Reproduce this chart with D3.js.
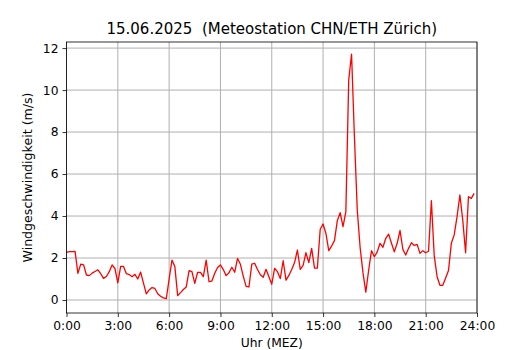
<!DOCTYPE html>
<html>
<head>
<meta charset="utf-8">
<script src="https://cdn.jsdelivr.net/npm/d3@7"></script>
<style>
   body { margin: 0; background: #fff; }
   #chart { width: 530px; height: 350px; }
   text { font-family: "DejaVu Sans", sans-serif; fill: #000; white-space: pre; }
</style>
</head>
<body>
<div id="chart"></div>
<script>
// chart title and axis labels
const title = '15.06.2025  (Meteostation CHN/ETH Zürich)';
const xLabel = 'Uhr (MEZ)';
const yLabel = 'Windgeschwindigkeit (m/s)';

// tick values (hours of the day and m/s)
const xTicks = [0, 3, 6, 9, 12, 15, 18, 21, 24];
const yTicks = [0, 2, 4, 6, 8, 10, 12];

// 10 minute means of wind speed (m/s), 00:00 .. 23:50
const windSpeed = [
   2.27, 2.30, 2.30, 2.32, 1.27, 1.71, 1.67, 1.19, 1.16, 1.28, 1.36, 1.44,
   1.25, 1.03, 1.12, 1.35, 1.67, 1.50, 0.82, 1.60, 1.60, 1.25, 1.21, 1.11,
   1.22, 1.00, 1.33, 0.80, 0.29, 0.48, 0.59, 0.55, 0.30, 0.18, 0.10, 0.06,
   1.00, 1.90, 1.60, 0.21, 0.35, 0.50, 0.62, 1.40, 1.35, 0.79, 1.32, 1.32,
   1.11, 1.90, 0.87, 0.90, 1.27, 1.55, 1.67, 1.45, 1.16, 1.30, 1.56, 1.32,
   1.98, 1.70, 1.14, 0.65, 0.62, 1.71, 1.75, 1.45, 1.20, 1.08, 1.46, 1.11,
   0.75, 1.51, 1.35, 1.02, 1.87, 0.95, 1.17, 1.45, 1.78, 2.38, 1.46, 1.65,
   2.25, 1.78, 2.46, 1.52, 1.52, 3.37, 3.62, 3.17, 2.35, 2.57, 2.83, 3.78,
   4.16, 3.49, 4.21, 10.48, 11.71, 7.78, 4.29, 2.50, 1.30, 0.37, 1.43, 2.35,
   2.06, 2.29, 2.70, 2.51, 2.94, 3.14, 2.70, 2.29, 2.70, 3.31, 2.41, 2.14,
   2.46, 2.73, 2.60, 2.65, 2.22, 2.35, 2.25, 2.32, 4.73, 2.10, 1.11, 0.70,
   0.70, 1.05, 1.40, 2.70, 3.10, 3.97, 5.00, 3.81, 2.25, 4.92, 4.84, 5.08
];

(function () {
   const width = 530;
   const height = 350;
   const margin = { top: 42, right: 53, bottom: 37, left: 66.5 };

   const svg = d3.select('#chart')
      .append('svg')
      .attr('width', width)
      .attr('height', height);

   // x in hours, y in m/s
   const x = d3.scaleLinear()
      .domain([0, 24])
      .range([margin.left, width - margin.right]);

   const y = d3.scaleLinear()
      .domain([-0.62, 12.29])
      .range([height - margin.bottom, margin.top]);

   // grid lines
   svg.append('g')
      .selectAll('line')
      .data(xTicks)
      .join('line')
      .attr('x1', d => x(d)).attr('x2', d => x(d))
      .attr('y1', margin.top).attr('y2', height - margin.bottom)
      .attr('stroke', '#b0b0b0')
      .attr('stroke-width', 1);

   svg.append('g')
      .selectAll('line')
      .data(yTicks)
      .join('line')
      .attr('x1', margin.left).attr('x2', width - margin.right)
      .attr('y1', d => y(d)).attr('y2', d => y(d))
      .attr('stroke', '#b0b0b0')
      .attr('stroke-width', 1);

   // the wind speed line
   const line = d3.line()
      .x((d, i) => x(i / 6))
      .y(d => y(d));

   svg.append('path')
      .datum(windSpeed)
      .attr('d', line)
      .attr('fill', 'none')
      .attr('stroke', '#ff0000')
      .attr('stroke-width', 1.3)
      .attr('stroke-linejoin', 'round');

   // axes
   const xAxis = d3.axisBottom(x)
      .tickValues(xTicks)
      .tickFormat(d => d + ':00')
      .tickSizeInner(4)
      .tickSizeOuter(0)
      .tickPadding(4);

   const yAxis = d3.axisLeft(y)
      .tickValues(yTicks)
      .tickSizeInner(4)
      .tickSizeOuter(0)
      .tickPadding(4);

   const gx = svg.append('g')
      .attr('transform', `translate(0,${height - margin.bottom})`)
      .call(xAxis);

   const gy = svg.append('g')
      .attr('transform', `translate(${margin.left},0)`)
      .call(yAxis);

   [gx, gy].forEach(g => {
      g.select('.domain').remove();
      g.selectAll('line').attr('stroke', '#000').attr('stroke-width', 0.8);
      g.selectAll('text')
         .style('font-family', '"DejaVu Sans", sans-serif')
         .style('font-size', '12.3px')
         .attr('fill', '#000');
   });

   // frame around plot area
   svg.append('rect')
      .attr('x', margin.left)
      .attr('y', margin.top)
      .attr('width', width - margin.left - margin.right)
      .attr('height', height - margin.top - margin.bottom)
      .attr('fill', 'none')
      .attr('stroke', '#000')
      .attr('stroke-width', 0.8);

   // title and labels
   svg.append('text')
      .attr('x', (margin.left + width - margin.right) / 2)
      .attr('y', 34)
      .attr('text-anchor', 'middle')
      .style('font-size', '15px')
      .text(title);

   svg.append('text')
      .attr('x', (margin.left + width - margin.right) / 2)
      .attr('y', 347)
      .attr('text-anchor', 'middle')
      .style('font-size', '12.3px')
      .text(xLabel);

   svg.append('text')
      .attr('transform', `translate(32,${(margin.top + height - margin.bottom) / 2}) rotate(-90)`)
      .attr('text-anchor', 'middle')
      .style('font-size', '12.6px')
      .text(yLabel);
})();
</script>
</body>
</html>
